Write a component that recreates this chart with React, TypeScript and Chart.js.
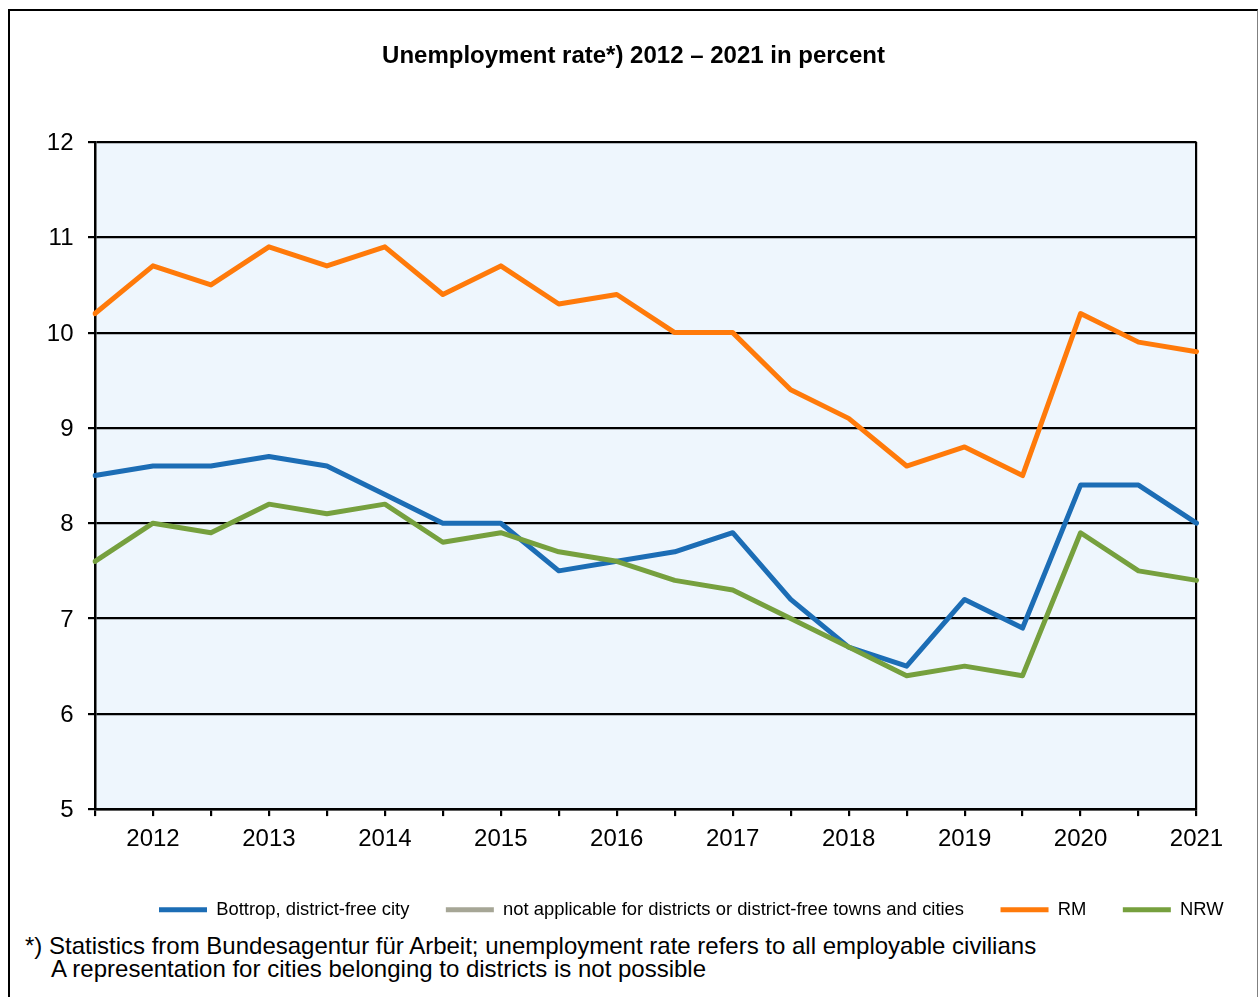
import React, { useEffect, useRef } from "react";
import { Chart, registerables } from "chart.js";

Chart.register(...registerables);

const xLabels = ["", "2012", "", "2013", "", "2014", "", "2015", "", "2016", "", "2017", "", "2018", "", "2019", "", "2020", "", "2021"];

const bottrop = [8.5, 8.6, 8.6, 8.7, 8.6, 8.3, 8.0, 8.0, 7.5, 7.6, 7.7, 7.9, 7.2, 6.7, 6.5, 7.2, 6.9, 8.4, 8.4, 8.0];
const notApplicable: (number | null)[] = [];
const rm = [10.2, 10.7, 10.5, 10.9, 10.7, 10.9, 10.4, 10.7, 10.3, 10.4, 10.0, 10.0, 9.4, 9.1, 8.6, 8.8, 8.5, 10.2, 9.9, 9.8];
const nrw = [7.6, 8.0, 7.9, 8.2, 8.1, 8.2, 7.8, 7.9, 7.7, 7.6, 7.4, 7.3, 7.0, 6.7, 6.4, 6.5, 6.4, 7.9, 7.5, 7.4];

const seriesNames = [
  "Bottrop, district-free city",
  "not applicable for districts or district-free towns and cities",
  "RM",
  "NRW",
];
const seriesColors = ["#1C6DB5", "#A6A696", "#FF7A0A", "#76A03E"];

const titleText = "Unemployment rate*) 2012 \u2013 2021 in percent";
const footnoteLines = [
  "*) Statistics from Bundesagentur f\u00fcr Arbeit; unemployment rate refers to all employable civilians",
  "A representation for cities belonging to districts is not possible",
];

const FONT = "'Liberation Sans', Arial, Helvetica, sans-serif";
const CANVAS_W = 1247;
const CANVAS_H = 918;
const LEGEND_LEFT = 112.5;
const PLOT_BG = "#EEF6FD";

const layoutFix = {
  id: "layoutFix",
  afterLayout(chart: any) {
    const t = chart.titleBlock;
    if (t) {
      t.left = 0;
      t.right = chart.width;
    }
    const l = chart.legend;
    if (l) {
      const w = l.right - l.left;
      l.left = LEGEND_LEFT;
      l.right = LEGEND_LEFT + w;
    }
  },
  beforeDraw(chart: any) {
    const { ctx, chartArea } = chart;
    if (!chartArea) return;
    ctx.save();
    ctx.fillStyle = PLOT_BG;
    ctx.fillRect(chartArea.left, chartArea.top, chartArea.right - chartArea.left, chartArea.bottom - chartArea.top);
    ctx.restore();
  },
};

function UnemploymentChart() {
  const ref = useRef<HTMLCanvasElement | null>(null);
  useEffect(() => {
    if (!ref.current) return;
    const seriesData = [bottrop, notApplicable, rm, nrw];
    const chart = new Chart(ref.current, {
      type: "line",
      data: {
        labels: xLabels,
        datasets: seriesData.map((d, i) => ({
          label: seriesNames[i],
          data: d,
          borderColor: seriesColors[i],
          backgroundColor: seriesColors[i],
          borderWidth: 5,
          borderCapStyle: "round" as const,
          borderJoinStyle: "round" as const,
          pointRadius: 0,
          pointHoverRadius: 0,
          tension: 0,
          fill: false,
          order: 4 - i,
        })),
      },
      options: {
        responsive: false,
        animation: false,
        devicePixelRatio: 1,
        layout: { padding: { left: 0, right: 60.5, top: 0, bottom: 0 } },
        plugins: {
          title: {
            display: true,
            text: titleText,
            color: "#000",
            font: { family: FONT, size: 24, weight: "bold" },
            padding: { top: 31.3, bottom: 70.9 },
          },
          legend: {
            display: true,
            position: "bottom",
            align: "start",
            labels: {
              usePointStyle: true,
              pointStyle: "line",
              pointStyleWidth: 48,
              padding: 36.5,
              color: "#000",
              font: { family: FONT, size: 18.4 },
              sort: (a: any, b: any) => a.datasetIndex - b.datasetIndex,
            },
          },
          tooltip: { enabled: false },
        },
        scales: {
          x: {
            type: "category",
            offset: false,
            afterFit: (s: any) => {
              s.height = 55;
            },
            grid: {
              display: true,
              drawOnChartArea: true,
              color: (c: any) => (c.index === xLabels.length - 1 ? "#000" : "rgba(0,0,0,0)"),
              tickColor: "#000",
              tickLength: 7,
              lineWidth: 2.2,
            },
            border: { display: true, color: "#000", width: 2.5 },
            ticks: {
              autoSkip: false,
              maxRotation: 0,
              minRotation: 0,
              padding: 9,
              color: "#000",
              font: { family: FONT, size: 24 },
            },
          },
          y: {
            min: 5,
            max: 12,
            afterFit: (s: any) => {
              s.width = 85;
            },
            grid: {
              color: "#000",
              tickColor: "#000",
              tickLength: 7,
              lineWidth: 2.2,
            },
            border: { display: true, color: "#000", width: 2.5 },
            ticks: {
              stepSize: 1,
              padding: 14.5,
              labelOffset: 1.5,
              color: "#000",
              font: { family: FONT, size: 24 },
            },
          },
        },
      },
      plugins: [layoutFix],
    });
    return () => chart.destroy();
  }, []);
  return (
    <canvas
      ref={ref}
      width={CANVAS_W}
      height={CANVAS_H}
      style={{ display: "block", width: CANVAS_W, height: CANVAS_H }}
    />
  );
}

export default function App() {
  return (
    <>
      <style>{`html,body{overflow:hidden}`}</style>
      <div
        style={{
          position: "fixed",
          left: 8,
          top: 9,
          width: CANVAS_W,
          height: 990,
          borderLeft: "2px solid #000",
          borderTop: "2px solid #000",
          borderRight: "1px solid #808080",
          background: "#fff",
          fontFamily: FONT,
        }}
      >
        <UnemploymentChart />
        <div
          style={{
            position: "absolute",
            left: 15,
            top: 923,
            fontSize: 24,
            lineHeight: "23px",
            color: "#000",
            whiteSpace: "pre",
          }}
        >
          <div>{footnoteLines[0]}</div>
          <div style={{ paddingLeft: 26 }}>{footnoteLines[1]}</div>
        </div>
      </div>
    </>
  );
}
